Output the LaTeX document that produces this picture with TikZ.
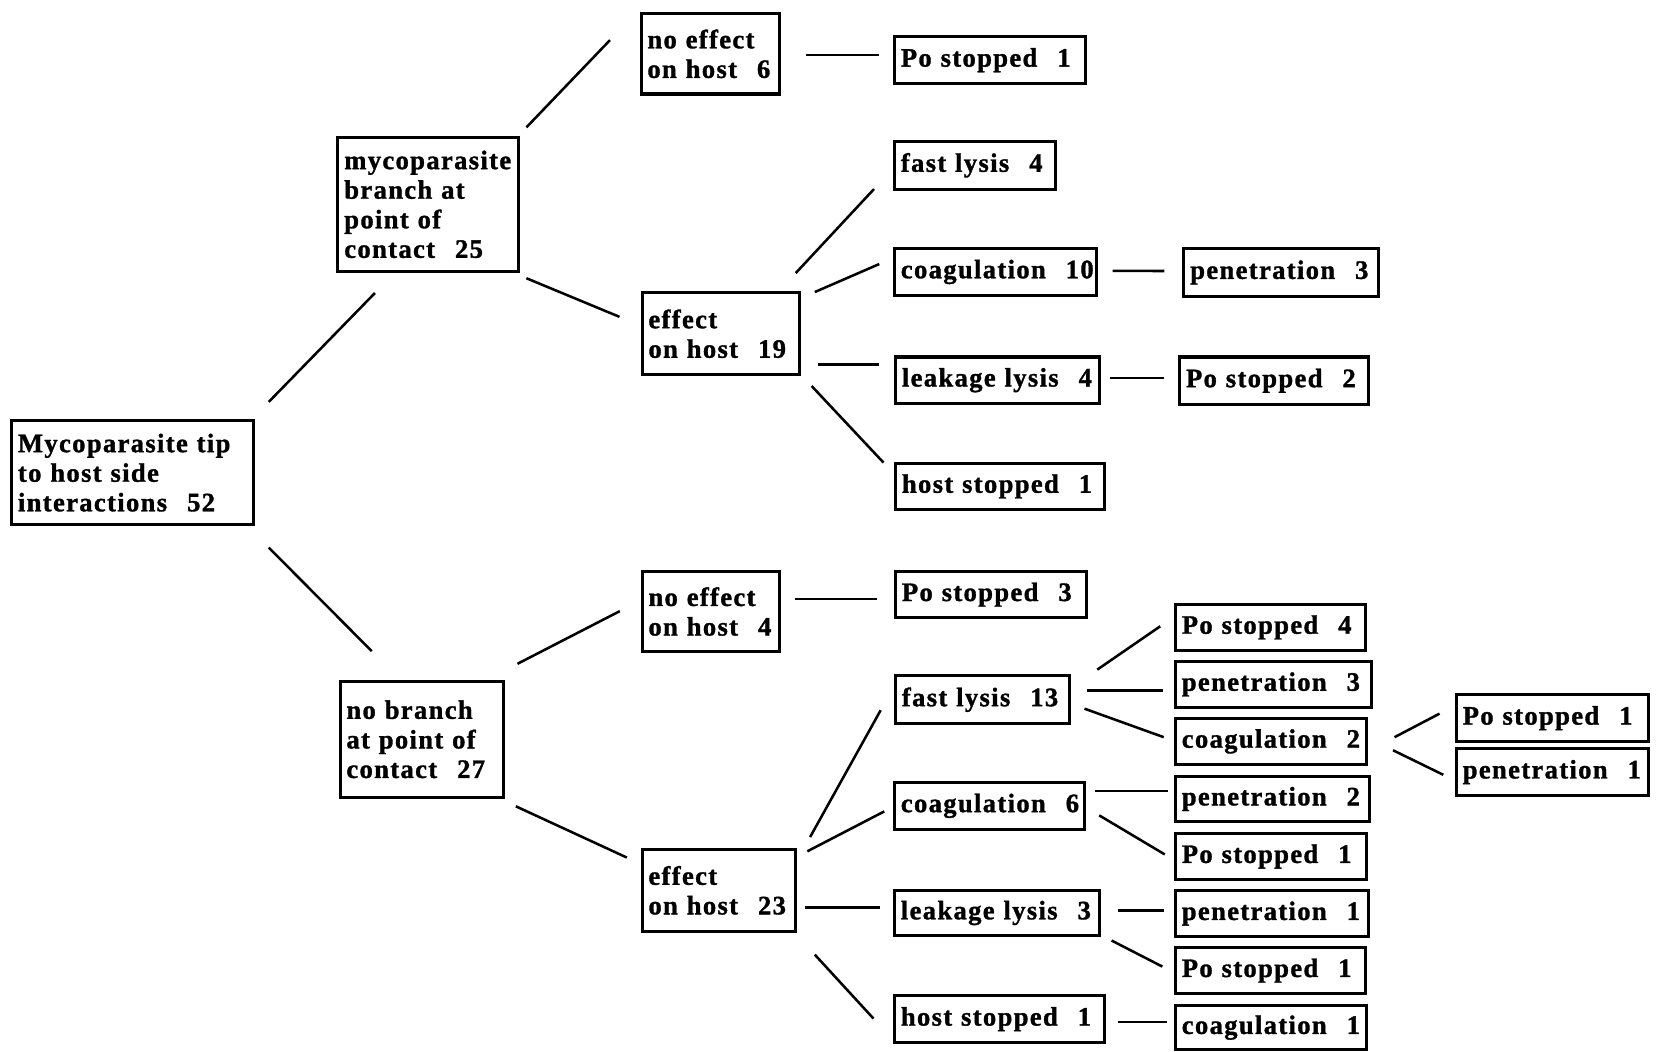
\documentclass[tikz,border=0pt]{standalone}
\usepackage{fontspec}
\newfontfamily\boxfont[LetterSpace=5,WordSpace=1.6,BoldFeatures={FakeBold=1.2}]{Liberation Serif}
\newcommand\cnum[1]{\hspace{0.75em}#1}
\newcommand\mkbox[6]{%
  \pgfmathsetmacro\bxw{(#4-#2)*0.5}%
  \pgfmathsetmacro\bxh{(#5-#3)*0.5}%
  \pgfmathsetmacro\bxt{(#4-#2)*0.5-6}%
  \pgfmathsetmacro\bxcx{(#2+#4)/2}%
  \pgfmathsetmacro\bxcy{-(#3+#5)/2}%
  \node[boxs, minimum width=\bxw pt, minimum height=\bxh pt, text width=\bxt pt] (#1) at (\bxcx,\bxcy) {#6};}
\tikzset{
  boxs/.style={draw, line width=1.45pt, inner xsep=3pt, inner ysep=2pt, align=left,
    font=\boxfont\bfseries\fontsize{12.6}{14}\selectfont},
  conn/.style={line width=1.2pt}
}
\begin{document}
\begin{tikzpicture}[x=0.5pt,y=0.5pt]
\useasboundingbox (0,0) rectangle (1568,-996);
% level 0 and 1
\mkbox{R}{11}{398}{240}{497}{\mbox{Mycoparasite tip}\\\mbox{to host side}\\\mbox{interactions\cnum{52}}}
\mkbox{MB}{320}{130}{491}{257}{\mbox{mycoparasite}\\\mbox{branch at}\\\mbox{point of}\\\mbox{contact\cnum{25}}}
\mkbox{NB}{322}{645}{477}{755}{\mbox{no branch}\\\mbox{at point of}\\\mbox{contact\cnum{27}}}
% level 2
\mkbox{NE6}{607}{13}{738}{89}{\mbox{no effect}\\\mbox{on host\cnum{6}}}
\mkbox{E19}{608}{277}{757}{355}{\mbox{effect}\\\mbox{on host\cnum{19}}}
\mkbox{NE4}{608}{541}{738}{617}{\mbox{no effect}\\\mbox{on host\cnum{4}}}
\mkbox{E23}{608}{804}{753}{882}{\mbox{effect}\\\mbox{on host\cnum{23}}}
% level 3
\mkbox{P1a}{847}{35}{1028}{79}{\mbox{Po stopped\cnum{1}}}
\mkbox{FL4}{847}{134}{999}{179}{\mbox{fast lysis\cnum{4}}}
\mkbox{C10}{847}{235}{1038}{280}{\mbox{coagulation\cnum{10}}}
\mkbox{L4}{848}{338}{1041}{382}{\mbox{leakage lysis\cnum{4}}}
\mkbox{HS1a}{848}{439}{1046}{482}{\mbox{host stopped\cnum{1}}}
\mkbox{P3}{848}{541}{1029}{585}{\mbox{Po stopped\cnum{3}}}
\mkbox{FL13}{848}{640}{1013}{685}{\mbox{fast lysis\cnum{13}}}
\mkbox{C6}{847}{741}{1027}{785}{\mbox{coagulation\cnum{6}}}
\mkbox{L3}{847}{843}{1041}{886}{\mbox{leakage lysis\cnum{3}}}
\mkbox{HS1b}{847}{943}{1046}{987}{\mbox{host stopped\cnum{1}}}
% level 4
\mkbox{PEN3a}{1121}{235}{1305}{281}{\mbox{penetration\cnum{3}}}
\mkbox{P2}{1117}{338}{1296}{383}{\mbox{Po stopped\cnum{2}}}
\mkbox{P4}{1113}{572}{1293}{616}{\mbox{Po stopped\cnum{4}}}
\mkbox{PEN3b}{1113}{626}{1299}{670}{\mbox{penetration\cnum{3}}}
\mkbox{C2}{1113}{680}{1294}{724}{\mbox{coagulation\cnum{2}}}
\mkbox{PEN2}{1113}{735}{1297}{778}{\mbox{penetration\cnum{2}}}
\mkbox{P1b}{1113}{789}{1294}{833}{\mbox{Po stopped\cnum{1}}}
\mkbox{PEN1a}{1113}{843}{1296}{887}{\mbox{penetration\cnum{1}}}
\mkbox{P1c}{1113}{897}{1293}{941}{\mbox{Po stopped\cnum{1}}}
\mkbox{C1}{1113}{952}{1294}{994}{\mbox{coagulation\cnum{1}}}
% level 5
\mkbox{P1d}{1379}{658}{1561}{702}{\mbox{Po stopped\cnum{1}}}
\mkbox{PEN1b}{1379}{709}{1561}{753}{\mbox{penetration\cnum{1}}}
% connectors
\draw[conn] ([shift={(13,16)}]R.north east) -- ([shift={(-50.5,-19)}]MB.south);
\draw[conn] ([shift={(13,-20)}]R.south east) -- ([shift={(-47.5,27)}]NB.north);
\draw[conn] ([shift={(6,8)}]MB.north east) -- ([shift={(-28,13)}]NE6.west);
\draw[conn] ([shift={(6,-5)}]MB.south east) -- ([shift={(-20,16)}]E19.west);
\draw[conn] ([shift={(24,-1)}]NE6.east) -- ([shift={(-13,5)}]P1a.west);
\draw[conn] ([shift={(-5,17)}]E19.north east) -- ([shift={(-18,-22.5)}]FL4.west);
\draw[conn] ([shift={(13,-1)}]E19.north east) -- ([shift={(-13,7.5)}]C10.west);
\draw[conn] ([shift={(16,-29)}]E19.east) -- ([shift={(-14,15)}]L4.west);
\draw[conn] ([shift={(10,-9)}]E19.south east) -- ([shift={(-10,22.5)}]HS1a.west);
\draw[conn] ([shift={(14,1)}]C10.east) -- ([shift={(-17,1.4)}]PEN3a.west);
\draw[conn] ([shift={(9,2)}]L4.east) -- ([shift={(-13,2.5)}]P2.west);
\draw[conn] ([shift={(11.5,15)}]NB.north east) -- ([shift={(-19.6,0.4)}]NE4.west);
\draw[conn] ([shift={(10,-7)}]NB.south east) -- ([shift={(-13,31)}]E23.west);
\draw[conn] ([shift={(13,12)}]NE4.east) -- ([shift={(-16,-4)}]P3.west);
\draw[conn] ([shift={(12.6,10)}]E23.north east) -- ([shift={(-12.7,-10)}]FL13.west);
\draw[conn] ([shift={(10,-3.5)}]E23.north east) -- ([shift={(-8.3,-5.3)}]C6.west);
\draw[conn] ([shift={(8,-16.5)}]E23.east) -- ([shift={(-12.7,5)}]L3.west);
\draw[conn] ([shift={(17,-20.4)}]E23.south east) -- ([shift={(-18.5,0.6)}]HS1b.west);
\draw[conn] ([shift={(24.5,4.5)}]FL13.north east) -- ([shift={(-13,1)}]P4.west);
\draw[conn] ([shift={(15,8.5)}]FL13.east) -- ([shift={(-10.4,-6)}]PEN3b.west);
\draw[conn] ([shift={(12.4,-8.5)}]FL13.east) -- ([shift={(-9.7,4)}]C2.west);
\draw[conn] ([shift={(25,4)}]C2.east) -- ([shift={(-14.5,4.3)}]P1d.west);
\draw[conn] ([shift={(23.6,-8.4)}]C2.east) -- ([shift={(-11,-2.6)}]PEN1b.west);
\draw[conn] ([shift={(8.8,14)}]C6.east) -- ([shift={(-6,7.5)}]PEN2.west);
\draw[conn] ([shift={(12.3,-9)}]C6.east) -- ([shift={(-8.7,2)}]P1b.west);
\draw[conn] ([shift={(15.7,2.5)}]L3.east) -- ([shift={(-9.4,3)}]PEN1a.west);
\draw[conn] ([shift={(10,-26)}]L3.east) -- ([shift={(-11,3.8)}]P1c.west);
\draw[conn] ([shift={(10.7,-2.6)}]HS1b.east) -- ([shift={(-7,5.4)}]C1.west);
\end{tikzpicture}
\end{document}
